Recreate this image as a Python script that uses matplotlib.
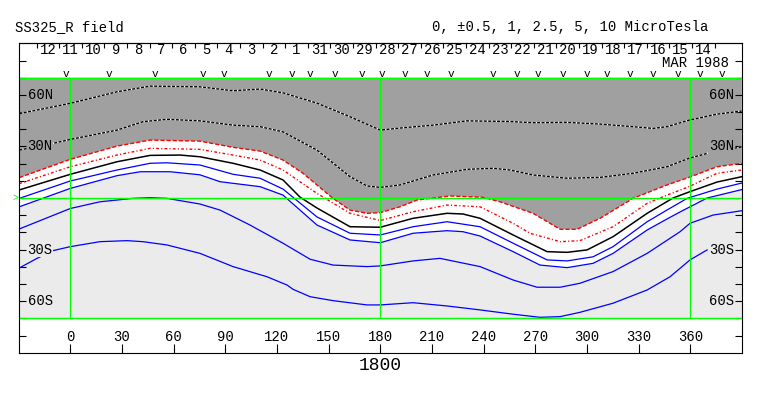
import matplotlib
matplotlib.use("Agg")
import matplotlib.pyplot as plt
import numpy as np

plt.rcParams['font.family'] = ['Liberation Mono', 'DejaVu Sans Mono']
plt.rcParams['lines.scale_dashes'] = False

# ---------------- data ----------------
title_left = "SS325_R field"
title_right = "0, \u00b10.5, 1, 2.5, 5, 10 MicroTesla"
time_label = "1800"
month_label = "MAR 1988"

lon_ticks = [0, 30, 60, 90, 120, 150, 180, 210, 240, 270, 300, 330, 360]
lat_labels = [60, 30, -30, -60]
lat_label_text = ["60N", "30N", "30S", "60S"]

day_labels = ["12", "11", "10", "9", "8", "7", "6", "5", "4", "3", "2", "1",
              "31", "30", "29", "28", "27", "26", "25", "24", "23", "22", "21",
              "20", "19", "18", "17", "16", "15", "14"]
day_first_lon = -12.95
day_step = 13.12

v_marks_lon = [-2.5, 22.5, 49.2, 77.0, 89.3, 115.4, 128.7, 139.2, 153.7, 169.4,
               181.0, 194.3, 207.1, 221.0, 245.4, 259.4, 271.6, 286.1, 300.0,
               311.6, 325.0, 338.3, 352.8, 365.6, 378.4]

# contour A (upper dotted, dark region)
a_lon = [-29.6, 0, 27.1, 46.3, 75.3, 94.5, 110.2, 123.5, 143.2, 162.4, 180, 191.4,
         210.6, 230.4, 255.3, 268.7, 288.4, 307.6, 326.7, 338.3, 346.4, 359.2, 375.5, 389.8]
a_lat = [49.1, 55.1, 61.8, 65.1, 64.7, 62.4, 63.4, 61.2, 55.2, 47.3, 39.5, 40.7,
         42.4, 44.9, 44.5, 43.8, 44.0, 43.0, 41.5, 40.5, 41.5, 45.3, 48.8, 50.6]
# contour B (lower dotted, dark region)
b_lon = [-29.6, -10, 0, 27.1, 42.2, 56.1, 75.3, 94.5, 110.2, 123.5, 143.2, 162.4, 172.3,
         180, 191.4, 210.6, 230.4, 245.4, 255.3, 268.7, 288.4, 307.6, 326.7, 346.4,
         359.2, 373.2, 389.8]
b_lat = [27.9, 31.8, 34.1, 39.5, 44.4, 45.8, 44.9, 42.4, 41.5, 38.5, 27.9, 12.4, 7.0,
         6.2, 7.6, 13.4, 16.7, 17.3, 16.3, 13.4, 11.5, 12.0, 14.4, 18.2,
         23.1, 26.9, 29.7]
# contour C (red dashed)
c_lon = [-29.6, 0, 27.1, 46.3, 75.3, 94.5, 110.2, 123.5, 135.1, 143.2, 152.5, 162.4,
         172.3, 180, 191.4, 201.3, 220.5, 239.6, 249.5, 268.7, 284.4, 294.2, 307.6,
         326.7, 346.4, 359.2, 375.5, 389.8]
c_lat = [11.9, 22.5, 30.2, 33.7, 33.1, 29.5, 27.3, 22.1, 14.4, 7.6, -0.2, -7.0,
         -8.9, -8.5, -5.1, -1.2, 1.2, 0.4, -2.2, -8.9, -18.2, -18.2, -11.8,
         -0.2, 7.6, 12.0, 18.2, 20.2]
# contour D (red dotted)
d_lon = [-29.6, 0, 27.1, 46.3, 75.3, 94.5, 110.2, 123.5, 143.2, 162.4, 180, 199.0,
         218.7, 237.9, 257.1, 266.9, 284.4, 295.9, 315.1, 334.9, 346.4, 359.2, 375.5, 389.8]
d_lat = [8.4, 18.2, 25.0, 28.9, 28.3, 25.0, 22.1, 16.3, 2.7, -8.9, -13.1, -8.0,
         -4.1, -5.1, -14.7, -20.5, -25.4, -24.8, -16.7, -3.1, 1.7, 6.6, 14.4, 16.3]
# contour E (black)
e_lon = [-29.6, 0, 27.1, 46.3, 63.7, 75.3, 94.5, 110.2, 123.5, 133.4, 143.2, 162.4,
         180, 199.0, 218.7, 228.0, 237.9, 257.1, 276.8, 288.4, 300.0, 315.1, 334.9,
         349.9, 359.2, 375.5, 389.8]
e_lat = [4.7, 13.8, 21.1, 24.8, 25.0, 24.0, 20.2, 16.3, 10.5, 0.5, -5.8, -16.7,
         -17.0, -11.8, -8.9, -9.3, -11.8, -21.5, -31.2, -31.6, -30.2, -22.5, -8.9,
         0.0, 3.5, 9.3, 12.4]
# contour F (blue 1)
f_lon = [-29.6, 0, 27.1, 46.3, 56.1, 75.3, 94.5, 110.2, 123.5, 143.2, 162.4, 180,
         199.0, 218.7, 237.9, 257.1, 276.8, 288.4, 303.5, 315.1, 334.9, 346.4, 358.1,
         375.5, 389.8]
f_lat = [-0.2, 9.9, 16.3, 20.2, 20.5, 19.2, 13.8, 11.5, 5.2, -11.0, -20.5, -21.5,
         -16.7, -13.8, -16.7, -26.3, -36.0, -36.6, -34.2, -28.3, -13.8, -7.0, -0.2,
         5.2, 8.7]
# contour G (blue 2)
g_lon = [-29.6, 0, 27.1, 40.6, 57.9, 75.3, 86.9, 110.2, 123.5, 143.2, 162.4, 180,
         199.0, 218.7, 228.0, 237.9, 257.1, 272.7, 288.4, 303.5, 315.1, 334.9, 346.4,
         354.0, 369.7, 389.8]
g_lat = [-5.1, 5.6, 13.0, 15.3, 15.3, 13.5, 9.5, 6.6, 1.7, -15.7, -24.4, -26.0,
         -20.5, -19.0, -19.6, -22.1, -31.2, -39.0, -40.5, -38.0, -32.2, -18.6, -12.2,
         -8.1, 0.0, 4.9]
# contour H (blue 3)
h_lon = [-29.6, 0, 17.2, 36.4, 46.3, 56.1, 75.3, 86.9, 104.3, 123.5, 139.2, 152.5,
         172.3, 180, 199.0, 214.6, 237.9, 257.1, 271.0, 284.4, 295.9, 315.1, 334.9,
         354.0, 359.8, 373.2, 389.8]
h_lat = [-18.0, -6.1, -2.2, -0.2, 0.2, -0.2, -3.5, -7.0, -15.7, -26.3, -35.6, -39.0,
         -39.9, -39.5, -36.6, -35.1, -39.9, -47.7, -51.9, -51.9, -49.6, -42.8, -32.2,
         -19.6, -14.7, -9.9, -7.4]
# contour I (blue 4)
i_lon = [-29.6, -19.3, -10, 0, 17.2, 32.9, 42.2, 56.1, 75.3, 94.5, 114.2, 125.8, 129.3,
         139.2, 152.5, 172.3, 180, 199.0, 218.7, 237.9, 257.1, 272.7, 284.4, 295.9,
         315.1, 334.9, 348.2, 359.8, 369.7]
i_lat = [-40.7, -35.1, -30.6, -28.3, -25.4, -24.8, -25.4, -27.3, -32.2, -39.9, -45.8,
         -50.6, -53.1, -57.4, -59.7, -62.2, -62.2, -60.9, -62.8, -65.1, -67.6, -69.4,
         -69.0, -66.5, -61.2, -53.5, -45.8, -36.0, -30.2]

# ---------------- style ----------------
X0, X1 = -29.6, 389.8
Y0, Y1 = -90, 90
MAP_TOP, MAP_BOT = 70, -70
DARK = "#a0a0a0"
LIGHT = "#ebebeb"
GREEN = "#00ff00"
RED = "#ff0000"
BLUE = "#0000ff"
FS = 10

fig = plt.figure(figsize=(7.63, 3.96), dpi=100)
ax = fig.add_axes([0.0253, 0.1093, 0.9468, 0.7813])
ax.set_xlim(X0, X1)
ax.set_ylim(Y0, Y1)

# backgrounds
ax.fill([X0, X1, X1, X0], [MAP_BOT, MAP_BOT, MAP_TOP, MAP_TOP], color=LIGHT, lw=0, zorder=1)
ax.fill(list(c_lon) + list(g_lon[::-1]), list(c_lat) + list(g_lat[::-1]),
        color="white", lw=0, zorder=1.2)
ax.fill(list(c_lon) + [X1, X0], list(c_lat) + [MAP_TOP, MAP_TOP],
        color=DARK, lw=0, zorder=1.4)

# contours
for lo, la in [(a_lon, a_lat), (b_lon, b_lat)]:
    ax.plot(lo, la, color="white", lw=1.0, zorder=2)
    ax.plot(lo, la, color="black", lw=1.0, ls=(0, (2.2, 1.0)), zorder=2.1)
ax.plot(c_lon, c_lat, color=RED, lw=1.0, ls=(0, (3.0, 1.4)), zorder=2.2)
ax.plot(d_lon, d_lat, color=RED, lw=1.0, ls=(0, (2.0, 1.6, 0.8, 1.6)), zorder=2.2)
ax.plot(e_lon, e_lat, color="black", lw=1.1, zorder=2.3)
for lo, la in [(f_lon, f_lat), (g_lon, g_lat), (h_lon, h_lat), (i_lon, i_lat)]:
    ax.plot(lo, la, color=BLUE, lw=0.9, zorder=2.3)

# green reference lines
for la in [MAP_TOP, 0, MAP_BOT]:
    ax.plot([X0, X1], [la, la], color=GREEN, lw=1.0, zorder=4)
for lo in [0, 180, 360]:
    ax.plot([lo, lo], [MAP_BOT, MAP_TOP], color=GREEN, lw=0.9, zorder=4)
ax.text(X0 - 0.5, 0, ">", color=GREEN, fontsize=7, ha="right", va="center",
        clip_on=False, zorder=6)

# latitude labels (inside, both sides)
for la, t in zip(lat_labels, lat_label_text):
    bg = DARK if la > 0 else LIGHT
    ax.text(X0 + 4.8, la, t, fontsize=FS, ha="left", va="center", zorder=5,
            bbox=dict(boxstyle="square,pad=0.05", fc=bg, ec="none"))
    ax.text(X1 - 4.4, la, t, fontsize=FS, ha="right", va="center", zorder=5,
            bbox=dict(boxstyle="square,pad=0.05", fc=bg, ec="none"))

# ticks
yt = [v for v in range(-80, 90, 10) if v != 0]
ax.set_yticks(yt)
ax.tick_params(axis="y", which="both", direction="in", length=5, width=0.8,
               left=True, right=True, labelleft=False, labelright=False)
ax.set_xticks(lon_ticks)
ax.tick_params(axis="x", which="both", direction="in", length=6.2, width=0.8,
               bottom=True, top=False, labelbottom=False)
for lo in lon_ticks:
    ax.text(lo, -80.8, str(lo), fontsize=FS, ha="center", va="center", zorder=5)

sec = ax.secondary_xaxis("top")
day_tick_lons = [day_first_lon - day_step / 2 + k * day_step for k in range(len(day_labels) + 1)]
sec.set_xticks(day_tick_lons)
sec.tick_params(direction="in", length=3.6, width=0.8, labeltop=False)
for k, d in enumerate(day_labels):
    ax.text(day_first_lon + k * day_step, 86.4, d, fontsize=FS, ha="center",
            va="center", zorder=5)
ax.text(382.6, 78.6, month_label, fontsize=FS, ha="right", va="center", zorder=5)

for lo in v_marks_lon:
    ax.text(lo, 70.6, "v", fontsize=8, ha="center", va="baseline", zorder=5)

for s in ax.spines.values():
    s.set_linewidth(0.8)
    s.set_zorder(7)
for s in sec.spines.values():
    s.set_linewidth(0.8)

ax.text(180, -97.7, time_label, fontsize=13, ha="center", va="center", clip_on=False)
fig.text(15 / 763, 1 - 27 / 396, title_left, fontsize=FS, ha="left", va="center")
fig.text(432 / 763, 1 - 27 / 396, title_right, fontsize=FS, ha="left", va="center")

fig.savefig("out.png", dpi=100)
